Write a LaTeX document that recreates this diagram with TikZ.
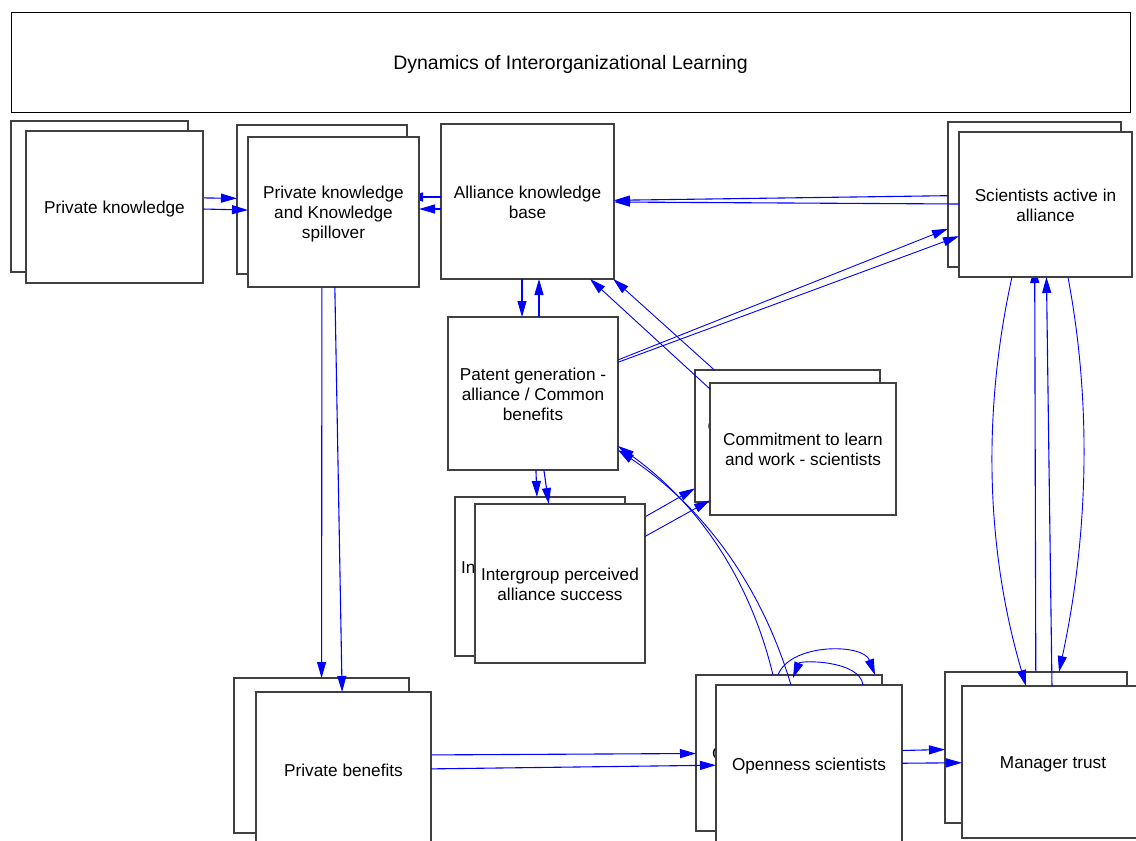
\documentclass[tikz,border=0pt]{standalone}
\usepackage{fontspec}
\setmainfont{Liberation Sans}
\usetikzlibrary{arrows.meta}
% box label: centred lines on a fixed 20pt pitch, set a little below centre
\newcommand{\boxtext}[1]{\raisebox{-2.8pt}[\height][\depth]{\begin{tabular}{@{}c@{}}#1\end{tabular}}}
\begin{document}
\begin{tikzpicture}[x=1pt,y=-1pt,
  box/.style={draw=black!75, fill=white, line width=1.1pt, rectangle,
    inner sep=0pt, outer sep=0pt,
    font=\fontsize{17.2}{20}\selectfont},
  arr/.style={draw=blue, line width=1.1pt, -{Triangle[length=16pt,width=9pt]}},
  arrc/.style={draw=blue, line width=0.9pt, -{Triangle[length=16pt,width=9pt]}}]
\fill[white] (0,0) rectangle (1136,841);
\useasboundingbox (0,0) rectangle (1136,841);
\clip (0,0) rectangle (1136,841);

% title
\node[box, draw=black, line width=0.8pt, minimum width=1119pt, minimum height=100pt,
  font=\fontsize{19.5}{22}\selectfont] (title) at (570.5,62) {\boxtext{Dynamics of Interorganizational Learning}};

% ---------- back copies ----------
\node[box, minimum width=177pt, minimum height=151pt] (pkb) at (99.5,196.5) {\boxtext{Private knowledge}};
\node[box, minimum width=170pt, minimum height=149pt] (pkksb) at (322,199.5) {\boxtext{Private knowledge\\and Knowledge\\spillover}};
\node[box, minimum width=173pt, minimum height=155pt] (akb) at (527.5,201.5) {\boxtext{Alliance knowledge\\base}};
\node[box, minimum width=173pt, minimum height=145pt] (saab) at (1034.5,194.5) {\boxtext{Scientists active in\\alliance}};
\node[box, minimum width=170pt, minimum height=153pt] (pg) at (533,393.5) {\boxtext{Patent generation -\\alliance / Common\\benefits}};
\node[box, minimum width=185pt, minimum height=132pt] (clwb) at (787.5,436) {\boxtext{Commitment to learn\\and work - scientists}};
\node[box, minimum width=170pt, minimum height=159pt] (ipasb) at (540,576.5) {\boxtext{Intergroup perceived\\alliance success}};
\node[box, minimum width=175pt, minimum height=155pt] (pbb) at (321.5,755.5) {\boxtext{Private benefits}};
\node[box, minimum width=186pt, minimum height=156pt] (osb) at (789,753) {\boxtext{Openness scientists}};
\node[box, minimum width=182pt, minimum height=151pt] (mtb) at (1036,747.5) {\boxtext{Manager trust}};

% ---------- back connectors ----------
\draw[arr] (pkb) -- (pkksb);
\draw[arr] ([yshift=4.5pt]akb.west) -- ([yshift=2.5pt]pkksb.east);
\draw[arr] (saab) -- (akb);
\draw[arr] ([xshift=-5.5pt]akb.south) -- ([xshift=-11pt]pg.north);
\draw[arr] ([xshift=6pt]pg.north) -- ([xshift=11.5pt]akb.south);
\draw[arrc] (clwb) -- (akb);
\draw[arrc] (pg) -- (saab);
\draw[arr] (pg) -- (ipasb);
\draw[arrc] (ipasb) -- (clwb);
\draw[arr] (pkksb) -- (pbb);
\draw[arr] (pbb) -- (osb);
\draw[arr] (osb) -- (mtb);
\draw[arr] (mtb) -- (saab);
\draw[arrc] ([xshift=31.5pt]saab.south) .. controls +(27,135) and +(29,-135) .. ([xshift=23pt]mtb.north);
\draw[arrc] ([xshift=-16pt]osb.north) .. controls (750,579) and (698,503) .. ([yshift=24pt]pg.south east);
\draw[arrc] ([xshift=-11pt]osb.north) .. controls +(12,-32) and +(-12,-32) .. ([xshift=86pt]osb.north);

% ---------- front copies ----------
\node[box, minimum width=177pt, minimum height=152pt] (pkf) at (114.5,207) {\boxtext{Private knowledge}};
\node[box, minimum width=171pt, minimum height=150pt] (pkksf) at (333.5,212) {\boxtext{Private knowledge\\and Knowledge\\spillover}};
\node[box, minimum width=173pt, minimum height=145pt] (saaf) at (1045.5,204.5) {\boxtext{Scientists active in\\alliance}};
\node[box, minimum width=186pt, minimum height=132pt] (clwf) at (803,449) {\boxtext{Commitment to learn\\and work - scientists}};
\node[box, minimum width=170pt, minimum height=159pt] (ipasf) at (560,583.5) {\boxtext{Intergroup perceived\\alliance success}};
\node[box, minimum width=175pt, minimum height=156pt] (pbf) at (343.5,770) {\boxtext{Private benefits}};
\node[box, minimum width=186pt, minimum height=158pt] (osf) at (809,764) {\boxtext{Openness scientists}};
\node[box, minimum width=182pt, minimum height=152pt] (mtf) at (1053,762) {\boxtext{Manager trust}};

% ---------- front connectors ----------
\draw[arr] (pkf) -- (pkksf);
\draw[arr] ([yshift=-7.5pt]akb.west) -- ([yshift=3pt]pkksf.east);
\draw[arr] (saaf) -- (akb);
\draw[arrc] ([yshift=-6pt]clwf.north west) -- ([xshift=-24pt]akb.south east);
\draw[arrc] (pg) -- (saaf);
\draw[arr] (pg) -- (ipasf);
\draw[arrc] (ipasf) -- (clwf);
\draw[arr] (pkksf) -- (pbf);
\draw[arr] (pbf) -- (osf);
\draw[arr] (osf) -- (mtf);
\draw[arr] (mtf) -- (saaf);
\draw[arrc] ([xshift=-33.5pt]saaf.south) .. controls +(-30,136) and +(-40,-136) .. ([xshift=-27pt]mtf.north);
\draw[arrc] ([xshift=-18pt]osf.north) .. controls (761.5,586) and (704,507.5) .. ([yshift=20pt]pg.south east);
\draw[arrc] ([xshift=54pt]osf.north) .. controls +(-3,-25) and +(7,-18) .. ([xshift=-16pt,yshift=7pt]osf.north);
\end{tikzpicture}
\end{document}
